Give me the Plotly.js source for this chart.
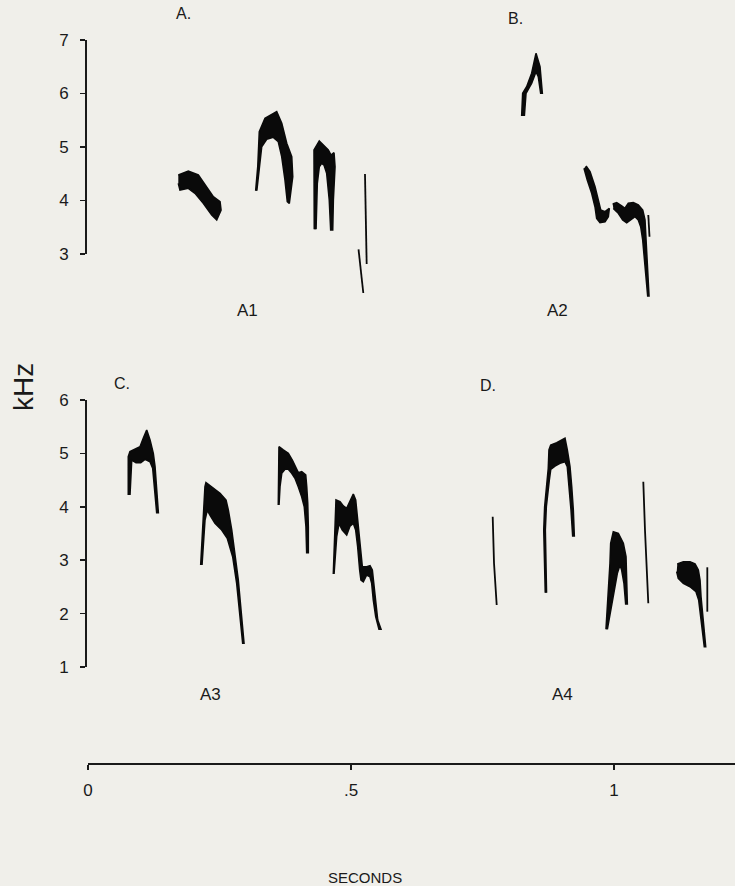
<!DOCTYPE html>
<html>
<head>
<meta charset="utf-8">
<script src="https://cdn.plot.ly/plotly-3.0.1.min.js"></script>
<style>
  html, body { margin: 0; padding: 0; background: #f0efea; }
  #chart { width: 735px; height: 886px; }
</style>
</head>
<body>
<div id="chart"></div>
<script>
// ---------- DATA (time in seconds, frequency in kHz) ----------
// Axis ticks
const timeTicks = [0, 0.5, 1];
const timeTickText = ['0', '.5', '1'];
const topKhzTicks = [3, 4, 5, 6, 7];
const bottomKhzTicks = [1, 2, 3, 4, 5, 6];

// Panel A - song A1 (top axis)
const A1_n1_t = [0.1717,0.1907,0.2097,0.2257,0.2382,0.2510,0.2529,0.2447,0.2352,0.2192,0.2034,0.1907,0.1749,0.1717];
const A1_n1_f = [4.477,4.551,4.477,4.258,4.071,3.978,3.822,3.636,3.729,3.948,4.135,4.228,4.196,4.321];
const A1_n2_t = [0.3188,0.3228,0.3257,0.3365,0.3587,0.3683,0.3778,0.3873,0.3892,0.3827,0.3789,0.3745,0.3683,0.3618,0.3523,0.3397,0.3302,0.3270,0.3209];
const A1_n2_f = [4.183,4.632,5.286,5.536,5.660,5.443,5.069,4.819,4.445,3.948,3.978,4.383,4.819,5.099,5.181,5.144,5.006,4.757,4.183];
const A1_n3_t = [0.4302,0.4297,0.4397,0.4568,0.4620,0.4677,0.4696,0.4664,0.4652,0.4614,0.4587,0.4538,0.4487,0.4443,0.4397,0.4359,0.4335];
const A1_n3_f = [3.462,4.944,5.112,4.944,4.850,4.893,4.632,4.009,3.449,3.449,4.009,4.508,4.664,4.695,4.632,4.321,3.462];
const A1_l1_t = [0.5266,0.5298];
const A1_l1_f = [4.495,2.813];
const A1_l2_t = [0.5143,0.5234];
const A1_l2_f = [3.088,2.271];

// Panel B - song A2 (top axis)
const A2_n1_t = [0.8245,0.8264,0.8340,0.8435,0.8517,0.8593,0.8637,0.8606,0.8561,0.8517,0.8435,0.8327,0.8295];
const A2_n1_f = [5.579,6.004,6.127,6.378,6.751,6.501,6.004,6.004,6.314,6.407,6.191,6.004,5.579];
const A2_n2_t = [0.9468,0.9544,0.9639,0.9702,0.9747,0.9829,0.9911,0.9892,0.9829,0.9734,0.9671,0.9639,0.9576,0.9492,0.9430];
const A2_n2_f = [4.645,4.538,4.258,4.009,3.822,3.791,3.854,3.697,3.604,3.585,3.667,3.884,4.135,4.383,4.602];
const A2_n3_t = [0.9975,1.0051,1.0146,1.0209,1.0272,1.0367,1.0462,1.0546,1.0589,1.0608,1.0633,1.0665,1.0641,1.0589,1.0546,1.0508,1.0462,1.0399,1.0317,1.0241,1.0165,1.0082,0.9987];
const A2_n3_f = [3.935,3.959,3.897,3.854,3.948,3.959,3.916,3.822,3.636,3.262,2.763,2.215,2.215,2.763,3.262,3.510,3.636,3.697,3.636,3.585,3.636,3.761,3.854];
const A2_l1_t = [1.0652,1.0675];
const A2_l1_f = [3.729,3.323];

// Panel C - song A3 (bottom axis)
const A3_n1_t = [0.0766,0.0766,0.0798,0.0894,0.0989,0.1051,0.1116,0.1179,0.1241,0.1274,0.1306,0.1337,0.1306,0.1260,0.1230,0.1179,0.1084,0.1002,0.0913,0.0831,0.0798];
const A3_n1_f = [4.221,4.938,5.032,5.077,5.125,5.283,5.438,5.251,5.002,4.751,4.376,3.890,3.890,4.376,4.721,4.845,4.890,4.826,4.826,4.876,4.221];
const A3_n2_t = [0.2143,0.2192,0.2224,0.2243,0.2352,0.2510,0.2624,0.2667,0.2732,0.2795,0.2857,0.2903,0.2941,0.2966,0.2941,0.2890,0.2827,0.2751,0.2648,0.2542,0.2414,0.2319,0.2268,0.2224,0.2167];
const A3_n2_f = [2.910,3.815,4.376,4.451,4.376,4.253,4.127,3.940,3.566,3.129,2.629,2.129,1.631,1.444,1.444,2.006,2.567,3.066,3.410,3.566,3.691,3.846,3.940,3.753,2.910];
const A3_n3_t = [0.3618,0.3618,0.3631,0.3713,0.3808,0.3884,0.3949,0.3998,0.4063,0.4139,0.4158,0.4177,0.4188,0.4188,0.4158,0.4144,0.4112,0.4063,0.3998,0.3935,0.3873,0.3808,0.3745,0.3683,0.3650,0.3631];
const A3_n3_f = [4.034,4.689,5.125,5.064,5.002,4.876,4.751,4.639,4.657,4.596,4.376,4.066,3.627,3.140,3.140,3.627,4.002,4.189,4.376,4.534,4.627,4.702,4.702,4.627,4.376,4.034];
const A3_n4_t = [0.4664,0.4696,0.4715,0.4791,0.4854,0.4918,0.4981,0.5044,0.5089,0.5120,0.5152,0.5190,0.5215,0.5298,0.5361,0.5405,0.5424,0.5456,0.5508,0.5570,0.5532,0.5470,0.5424,0.5394,0.5361,0.5298,0.5234,0.5190,0.5165,0.5127,0.5089,0.5044,0.4981,0.4918,0.4835,0.4772,0.4728,0.4677];
const A3_n4_f = [2.742,3.440,4.127,4.096,4.015,3.972,4.096,4.240,4.127,3.815,3.504,3.004,2.878,2.878,2.897,2.816,2.629,2.255,1.880,1.706,1.706,1.942,2.255,2.567,2.691,2.723,2.597,2.629,2.816,3.253,3.566,3.691,3.640,3.472,3.566,3.691,3.440,2.742];

// Panel D - song A4 (bottom axis)
const A4_l1_t = [0.7694,0.7719,0.7770];
const A4_l1_f = [3.815,2.942,2.161];
const A4_n2_t = [0.8694,0.8665,0.8682,0.8722,0.8751,0.8764,0.8797,0.8911,0.9068,0.9112,0.9163,0.9196,0.9226,0.9245,0.9215,0.9183,0.9150,0.9112,0.9068,0.8973,0.8878,0.8797,0.8770,0.8713,0.8694,0.8717];
const A4_n2_f = [2.391,3.566,4.002,4.502,4.721,5.064,5.157,5.200,5.283,5.064,4.751,4.376,3.940,3.453,3.453,3.940,4.376,4.751,4.845,4.815,4.764,4.702,4.502,4.002,3.566,2.391];
const A4_n3_t = [0.9848,0.9892,0.9924,0.9937,0.9987,1.0082,1.0177,1.0228,1.0241,1.0253,1.0222,1.0190,1.0146,1.0114,1.0063,0.9987,0.9873];
const A4_n3_f = [1.706,2.316,2.942,3.316,3.534,3.504,3.316,3.066,2.629,2.180,2.180,2.567,2.816,2.910,2.755,2.316,1.706];
const A4_l2_t = [1.0557,1.0589,1.0652];
const A4_l2_f = [4.470,3.566,2.193];
const A4_n4_t = [1.1203,1.1318,1.1445,1.1540,1.1603,1.1635,1.1654,1.1686,1.1717,1.1743,1.1717,1.1686,1.1648,1.1610,1.1559,1.1445,1.1318,1.1222,1.1192];
const A4_n4_f = [2.929,2.972,2.972,2.929,2.816,2.629,2.316,1.942,1.631,1.380,1.380,1.631,1.942,2.255,2.410,2.504,2.567,2.661,2.785];
const A4_l3_t = [1.1774,1.1774];
const A4_l3_f = [2.867,2.036];

// ---------- BUILD ----------
const INK = '#0a0a0a';
const W = 735, H = 886;
const px = v => v / W;          // page x pixel -> paper
const py = v => 1 - v / H;      // page y pixel -> paper

function note(t, f, yax) {
  return { type: 'scatter', mode: 'lines', x: t, y: f, yaxis: yax,
           fill: 'toself', fillcolor: INK,
           line: { color: INK, width: 1.6, shape: 'linear' },
           hoverinfo: 'skip', showlegend: false };
}
function stroke(t, f, yax) {
  return { type: 'scatter', mode: 'lines', x: t, y: f, yaxis: yax,
           line: { color: INK, width: 1.8 },
           hoverinfo: 'skip', showlegend: false };
}

const traces = [
  note(A1_n1_t, A1_n1_f, 'y'), note(A1_n2_t, A1_n2_f, 'y'), note(A1_n3_t, A1_n3_f, 'y'),
  stroke(A1_l1_t, A1_l1_f, 'y'), stroke(A1_l2_t, A1_l2_f, 'y'),
  note(A2_n1_t, A2_n1_f, 'y'), note(A2_n2_t, A2_n2_f, 'y'), note(A2_n3_t, A2_n3_f, 'y'),
  stroke(A2_l1_t, A2_l1_f, 'y'),
  note(A3_n1_t, A3_n1_f, 'y2'), note(A3_n2_t, A3_n2_f, 'y2'), note(A3_n3_t, A3_n3_f, 'y2'), note(A3_n4_t, A3_n4_f, 'y2'),
  stroke(A4_l1_t, A4_l1_f, 'y2'), note(A4_n2_t, A4_n2_f, 'y2'), note(A4_n3_t, A4_n3_f, 'y2'),
  stroke(A4_l2_t, A4_l2_f, 'y2'), note(A4_n4_t, A4_n4_f, 'y2'), stroke(A4_l3_t, A4_l3_f, 'y2'),
  // carriers for the visible frequency scales
  { type: 'scatter', x: [null], y: [null], yaxis: 'y3', hoverinfo: 'skip', showlegend: false },
  { type: 'scatter', x: [null], y: [null], yaxis: 'y4', hoverinfo: 'skip', showlegend: false }
];

const FONT = 'Liberation Sans, Arial, sans-serif';
const AXC = '#1a1a1a';
const tickFont = { family: FONT, size: 17, color: AXC };

const khzAxis = (dom, rng, ticks) => ({
  domain: dom, range: rng, anchor: 'free', position: px(85), side: 'left',
  showline: true, linecolor: AXC, linewidth: 1.6,
  ticks: 'outside', ticklen: 5, tickwidth: 1.6, tickcolor: AXC,
  tickvals: ticks, ticktext: ticks.map(String), tickfont: tickFont,
  ticklabelstandoff: 8,
  showgrid: false, zeroline: false, fixedrange: true
});

// top panel: 3 kHz at y=254px, 7 kHz at y=40px ; bottom: 1 kHz at 667px, 6 kHz at 400px
const topPx = [330, 20], botPx = [700, 360];
const topRange = [3 + (254 - topPx[0]) / 53.5, 3 + (254 - topPx[1]) / 53.5];
const botRange = [1 + (667 - botPx[0]) / 53.4, 1 + (667 - botPx[1]) / 53.4];

const ann = (text, x, y, size, extra) => Object.assign({
  text: text, xref: 'paper', yref: 'paper', x: px(x), y: py(y),
  xanchor: 'center', yanchor: 'middle', showarrow: false,
  font: { family: FONT, size: size, color: AXC }
}, extra || {});

const layout = {
  width: W, height: H,
  margin: { l: 0, r: 0, t: 0, b: 0 },
  paper_bgcolor: '#f0efea', plot_bgcolor: 'rgba(0,0,0,0)',
  showlegend: false, hovermode: false,
  xaxis: {
    domain: [px(88), 1], range: [0, (735 - 88) / 526],
    anchor: 'free', position: py(763), side: 'bottom',
    showline: true, linecolor: AXC, linewidth: 1.6,
    ticks: 'outside', ticklen: 5, tickwidth: 1.6, tickcolor: AXC,
    tickvals: timeTicks, ticktext: timeTickText, tickfont: tickFont,
    ticklabelstandoff: 6,
    showgrid: false, zeroline: false, fixedrange: true
  },
  yaxis: { domain: [py(topPx[0]), py(topPx[1])], range: topRange, visible: false, fixedrange: true },
  yaxis2: { domain: [py(botPx[0]), py(botPx[1])], range: botRange, visible: false, fixedrange: true },
  yaxis3: khzAxis([py(254), py(40)], [3, 7], topKhzTicks),
  yaxis4: khzAxis([py(667), py(400)], [1, 6], bottomKhzTicks),
  annotations: [
    ann('A.', 183, 14, 16),
    ann('B.', 515, 18, 16),
    ann('A1', 248, 310, 17),
    ann('A2', 557, 310, 17),
    ann('C.', 122, 383, 16),
    ann('D.', 488, 385, 16),
    ann('A3', 210, 694, 17),
    ann('A4', 562, 694, 17),
    ann('kHz', 23, 387, 28, { textangle: -90 }),
    ann('SECONDS', 365, 877, 15)
  ]
};

Plotly.newPlot('chart', traces, layout, { staticPlot: true, displayModeBar: false });
</script>
</body>
</html>
